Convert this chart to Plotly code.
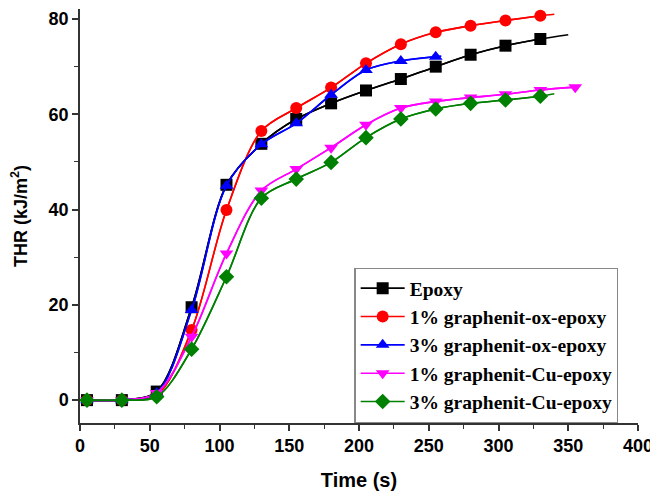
import plotly.graph_objects as go

# Data
time = [5, 30, 55, 80, 105, 130, 155, 180, 205, 230, 255, 280, 305, 330, 355]

epoxy = [0, 0, 1.8, 19.5, 45.2, 53.8, 59.0, 62.3, 65.0, 67.4, 70.0, 72.5, 74.4, 75.8]
go1 = [0, 0, 1.0, 14.7, 39.9, 56.5, 61.3, 65.6, 70.7, 74.7, 77.2, 78.6, 79.7, 80.7]
go3 = [0, 0, 1.5, 18.9, 45.0, 53.7, 58.1, 64.1, 69.3, 71.2, 72.1]
cu1 = [0, 0, 1.5, 13.3, 30.8, 44.0, 48.5, 53.0, 57.8, 61.3, 62.7, 63.5, 64.2, 65.1, 65.7]
cu3 = [0, 0, 0.7, 10.7, 25.9, 42.4, 46.4, 49.9, 55.1, 59.0, 61.1, 62.3, 63.0, 63.8]

# where each fitted curve ends beyond its last marker (time, value)
tail_x = {"epoxy": 350, "go1": 340, "go3": 259, "cu1": None, "cu3": 340}
tail_y = {"epoxy": 76.7, "go1": 81.0, "go3": 72.2, "cu1": None, "cu3": 64.3}

names = ["Epoxy", "1% graphenit-ox-epoxy", "3% graphenit-ox-epoxy",
         "1% graphenit-Cu-epoxy", "3% graphenit-Cu-epoxy"]
keys = ["epoxy", "go1", "go3", "cu1", "cu3"]
series = [epoxy, go1, go3, cu1, cu3]
colors = ["#000000", "#ff0000", "#0000ff", "#ff00ff", "#008000"]
symbols = ["square", "circle", "triangle-up", "triangle-down", "diamond"]

x_ticks = list(range(0, 401, 50))
y_ticks = [0, 20, 40, 60, 80]

fig = go.Figure()
for name, key, ys, col, sym in zip(names, keys, series, colors, symbols):
    xs = time[:len(ys)]
    lx, ly = list(xs), list(ys)
    if tail_x[key] is not None:
        lx.append(tail_x[key])
        ly.append(tail_y[key])
    fig.add_trace(go.Scatter(
        x=lx, y=ly, mode="lines", line=dict(color=col, width=1.6, shape="spline", smoothing=0.9),
        showlegend=False, hoverinfo="skip"))
    fig.add_trace(go.Scatter(
        x=xs, y=ys, mode="lines+markers", name=name,
        line=dict(color=col, width=1.6, shape="spline", smoothing=0.9),
        marker=dict(symbol=sym, size=12, color=col, line=dict(width=0))))

axis_common = dict(
    showline=True, linecolor="#333333", linewidth=1.5, mirror=False,
    ticks="outside", ticklen=6, tickwidth=1.5, tickcolor="#333333",
    showgrid=False, zeroline=False, automargin=False,
    tickfont=dict(family="Liberation Sans, Arial", size=18, color="#000000", weight="bold"),
)

# the page body has an 8px margin, so the figure is sized to fit the window
fig.update_layout(
    width=650, height=485,
    margin=dict(l=72, r=20, t=1, b=70),
    paper_bgcolor="white", plot_bgcolor="white",
    xaxis=dict(range=[0, 400], tickvals=x_ticks,
               minor=dict(dtick=25, tick0=0, ticks="outside", ticklen=4, tickwidth=1.2, tickcolor="#333333"),
               title=dict(text="Time (s)", font=dict(family="Liberation Sans, Arial", size=20, color="#000", weight="bold"), standoff=18),
               **axis_common),
    yaxis=dict(range=[-4.8, 82.1], tickvals=y_ticks,
               minor=dict(dtick=10, tick0=0, ticks="outside", ticklen=4, tickwidth=1.2, tickcolor="#333333"),
               title=dict(text="THR (kJ/m<sup>2</sup>)", font=dict(family="Liberation Sans, Arial", size=18, color="#000", weight="bold"), standoff=18),
               **axis_common),
    legend=dict(x=0.965, y=0.375, xanchor="right", yanchor="top",
                bgcolor="white", bordercolor="#888888", borderwidth=1.2,
                font=dict(family="Liberation Serif, Times New Roman", size=19.5, color="#000", weight="bold"),
                tracegroupgap=0, itemwidth=44),
)

fig.write_html("out.html")
